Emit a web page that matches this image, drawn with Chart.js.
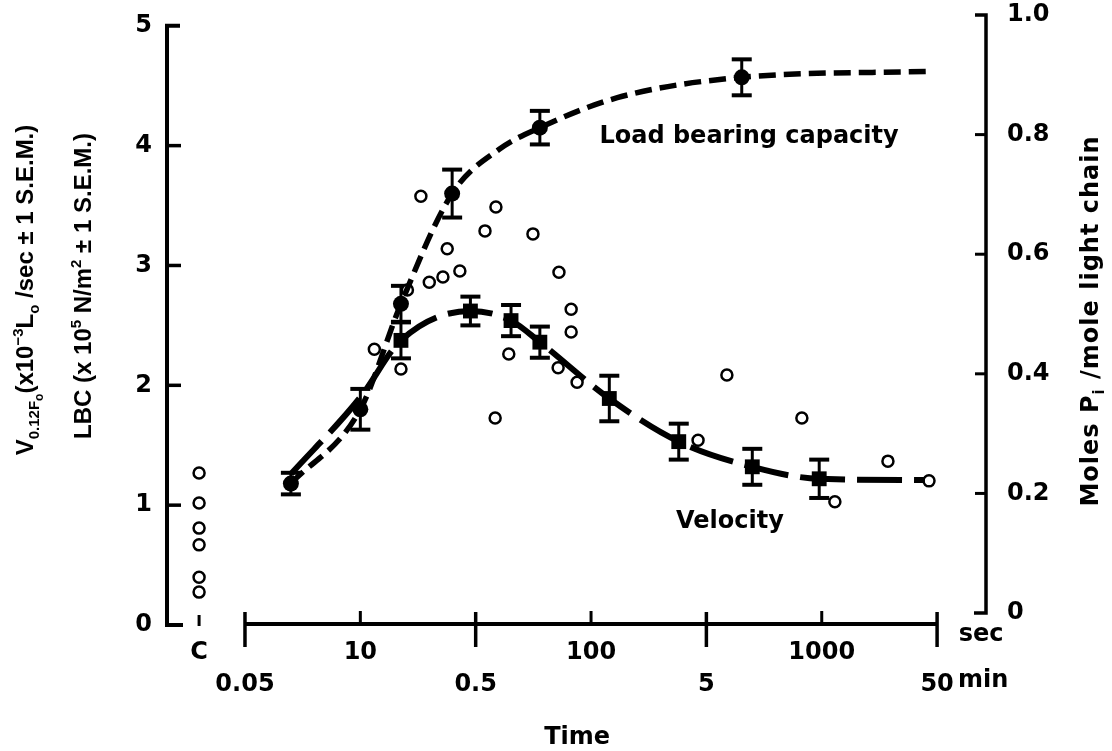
<!DOCTYPE html>
<html>
<head>
<meta charset="utf-8">
<script src="https://cdn.jsdelivr.net/npm/chart.js@4.4.0/dist/chart.umd.min.js"></script>
<style>
body { margin: 0; background: #fff; }
</style>
</head>
<body>
<canvas id="chart" width="1112" height="751"></canvas>
<script>
FONT = '"DejaVu Sans", "Liberation Sans", sans-serif'
NARROW = '"Liberation Sans", Arial, sans-serif'

// x axis (time, sec), "C" = control column
const xTickVals = [2, 3.162, 10, 31.62, 100, 316.2, 1000, 3162]
const xSecLabels = ['C', '', '10', '', '100', '', '1000', '']
const xMinLabels = ['', '0.05', '', '0.5', '', '5', '', '50']
const yTicks = [0, 1, 2, 3, 4, 5]
const y2Ticks = [0, 0.2, 0.4, 0.6, 0.8, 1.0]

// load bearing capacity, filled circles (null err = curve only, no marker)
const lbcTime = [5, 10, 15, 25, 40, 60, 130, 450, 3000]
const lbcVal = [1.18, 1.8, 2.68, 3.6, 3.97, 4.15, 4.4, 4.57, 4.62]
const lbcErr = [0.09, 0.17, 0.15, 0.2, null, 0.14, null, 0.15, null]

// velocity, filled squares
const velTime = [5, 10, 15, 30, 45, 60, 120, 240, 500, 975, 2800]
const velVal = [1.26, 1.9, 2.375, 2.62, 2.54, 2.36, 1.89, 1.53, 1.32, 1.22, 1.21]
const velErr = [null, null, 0.15, 0.12, 0.13, 0.13, 0.19, 0.15, 0.15, 0.16, null]

// moles Pi / mole light chain, open circles (right axis)
const piTime = [11.5, 15, 16, 18.3, 19.9, 22.8, 23.8, 27, 34.7, 38.4, 38.7, 44, 56, 72, 72.6, 82, 82, 87, 291, 388, 820, 1140, 1936, 2917]
const piVal = [0.441, 0.408, 0.540, 0.697, 0.553, 0.562, 0.609, 0.572, 0.639, 0.326, 0.679, 0.433, 0.634, 0.410, 0.570, 0.508, 0.470, 0.386, 0.289, 0.398, 0.326, 0.186, 0.254, 0.221]
const ctrlTime = 2
const ctrlVal = [0.234, 0.184, 0.142, 0.114, 0.060, 0.035]

function pts(xs, ys) {
    return ys.map((v, i) => ({x: Array.isArray(xs) ? xs[i] : xs, y: v}))
}

function seg(ctx, coords, w) {
    ctx.lineWidth = w
    ctx.beginPath()
    ctx.moveTo(coords[0], coords[1])
    for (let i = 2; i < coords.length; i += 2) ctx.lineTo(coords[i], coords[i + 1])
    ctx.stroke()
}

// rich text: parts of [text, kind] ; kind 0 normal, 1 sub, 2 subsub, 3 sup
function partFont(k, fam) {
    const size = [24, 15, 12, 15][k]
    return `bold ${size}px ${fam}`
}
function drawRich(ctx, parts, cx, cy, fam, spacing) {
    ctx.save()
    ctx.translate(cx, cy)
    ctx.rotate(-Math.PI / 2)
    ctx.letterSpacing = spacing + 'px'
    let w = 0
    parts.forEach(p => { ctx.font = partFont(p[1], fam); w += ctx.measureText(p[0]).width })
    let x = -w / 2
    ctx.textBaseline = 'alphabetic'
    ctx.textAlign = 'left'
    parts.forEach(p => {
        ctx.font = partFont(p[1], fam)
        const dy = [0, 6, 10, -10][p[1]]
        ctx.fillText(p[0], x, dy)
        x += ctx.measureText(p[0]).width
    })
    ctx.restore()
}

const axisArt = {
    id: 'axisArt',
    beforeDatasetsDraw(chart) {
        const {ctx, chartArea, scales: {x, y, y2}} = chart
        ctx.save()
        ctx.strokeStyle = '#000'
        ctx.lineJoin = 'miter'
        // left axis
        const lx = chartArea.left
        seg(ctx, [lx + 13, y.getPixelForValue(5), lx, y.getPixelForValue(5), lx, y.getPixelForValue(0), lx + 16, y.getPixelForValue(0)], 4)
        yTicks.slice(1, -1).forEach(v => seg(ctx, [lx, y.getPixelForValue(v), lx + 14, y.getPixelForValue(v)], 3.5))
        // right axis
        const rx = chartArea.right
        seg(ctx, [rx - 11, y2.getPixelForValue(1), rx, y2.getPixelForValue(1), rx, y2.getPixelForValue(0), rx - 12, y2.getPixelForValue(0)], 3.5)
        y2Ticks.slice(1, -1).forEach(v => seg(ctx, [rx, y2.getPixelForValue(v), rx - 11, y2.getPixelForValue(v)], 3))
        // broken time axis
        const ay = y.getPixelForValue(0) - 1
        seg(ctx, [x.getPixelForValue(3.162), ay, x.getPixelForValue(3162), ay], 4)
        xTickVals.forEach((v, i) => {
            const px = x.getPixelForValue(v)
            if (v === ctrlTime) seg(ctx, [px, ay - 9, px, ay + 2], 3)
            else if (xMinLabels[i]) seg(ctx, [px, ay - 12, px, ay + 23], 3.5)
            else seg(ctx, [px, ay - 13, px, ay], 3)
        })
        // error bars
        const bars = [[0, lbcVal, lbcErr], [1, velVal, velErr]]
        bars.forEach(([di, vals, errs]) => {
            const meta = chart.getDatasetMeta(di)
            meta.data.forEach((pt, j) => {
                if (errs[j] == null) return
                const t = y.getPixelForValue(vals[j] + errs[j])
                const b = y.getPixelForValue(vals[j] - errs[j])
                seg(ctx, [pt.x, t, pt.x, b], 3)
                seg(ctx, [pt.x - 10, t, pt.x + 10, t], 4)
                seg(ctx, [pt.x - 10, b, pt.x + 10, b], 4)
            })
        })
        ctx.restore()
    },
    afterDraw(chart) {
        const {ctx, scales: {x, y}} = chart
        ctx.save()
        ctx.fillStyle = '#000'
        ctx.font = `bold 24px ${FONT}`
        ctx.textAlign = 'center'
        ctx.textBaseline = 'middle'
        const end = x.getPixelForValue(3162)
        ctx.fillText('sec', end + 44, 635)
        ctx.fillText('min', end + 46, 681)
        ctx.fillText('Time', x.getPixelForValue(87), 738)
        ctx.fillText('Load bearing capacity', x.getPixelForValue(484), y.getPixelForValue(4.07))
        ctx.fillText('Velocity', x.getPixelForValue(400), y.getPixelForValue(0.86))
        drawRich(ctx, [['V', 0], ['0.12', 1], ['F', 1], ['o', 2], ['(x10', 0], ['\u22123', 3], ['L', 0], ['o', 1], [' /sec \u00b1 1 S.E.M.)', 0]], 33, 290, NARROW, 0)
        drawRich(ctx, [['LBC (x 10', 0], ['5', 3], [' N/m', 0], ['2', 3], [' \u00b1 1 S.E.M.)', 0]], 91, 286, NARROW, 0)
        drawRich(ctx, [['Moles P', 0], ['i', 1], [' /mole light chain', 0]], 1098, 321, FONT, 1)
        ctx.restore()
    }
}

const tickFont = {family: FONT, size: 24, weight: 'bold', lineHeight: 1.333}

new Chart(document.getElementById('chart'), {
    type: 'scatter',
    data: {
        datasets: [
            {
                data: pts(lbcTime, lbcVal),
                showLine: true,
                cubicInterpolationMode: 'monotone',
                borderColor: '#000',
                borderWidth: 5.5,
                borderDash: [17, 8],
                pointStyle: 'circle',
                pointRadius: lbcErr.map(e => e == null ? 0 : 8),
                pointBackgroundColor: '#000',
                pointBorderWidth: 0,
                yAxisID: 'y'
            },
            {
                data: pts(velTime, velVal),
                showLine: true,
                cubicInterpolationMode: 'monotone',
                borderColor: '#000',
                borderWidth: 6,
                borderDash: [45, 12],
                pointStyle: 'rect',
                pointRadius: velErr.map(e => e == null ? 0 : 10.5),
                pointBackgroundColor: '#000',
                pointBorderWidth: 0,
                yAxisID: 'y'
            },
            {
                data: pts(piTime, piVal),
                showLine: false,
                pointStyle: 'circle',
                pointRadius: 5.5,
                pointBackgroundColor: '#fff',
                pointBorderColor: '#000',
                pointBorderWidth: 2.5,
                yAxisID: 'y2'
            },
            {
                data: pts(ctrlTime, ctrlVal),
                showLine: false,
                pointStyle: 'circle',
                pointRadius: 5.5,
                pointBackgroundColor: '#fff',
                pointBorderColor: '#000',
                pointBorderWidth: 2.5,
                yAxisID: 'y2'
            }
        ]
    },
    options: {
        responsive: false,
        animation: false,
        layout: {padding: {top: 15, left: 0, right: 0, bottom: 0}},
        plugins: {
            legend: {display: false},
            tooltip: {enabled: false}
        },
        scales: {
            x: {
                type: 'logarithmic',
                position: 'bottom',
                bounds: 'data',
                min: 1.452,
                max: 5152,
                grid: {display: false, drawTicks: false},
                border: {display: false},
                afterBuildTicks: s => { s.ticks = xTickVals.map(v => ({value: v})) },
                afterFit: s => { s.height = 126; s.paddingLeft = 0; s.paddingRight = 0 },
                ticks: {
                    autoSkip: false,
                    maxRotation: 0,
                    minRotation: 0,
                    padding: 12,
                    color: '#000',
                    font: tickFont,
                    callback: (v, i) => [xSecLabels[i], xMinLabels[i]]
                }
            },
            y: {
                position: 'left',
                min: 0,
                max: 5.09,
                grid: {display: false, drawTicks: false},
                border: {display: false},
                afterBuildTicks: s => { s.ticks = yTicks.map(v => ({value: v})) },
                afterFit: s => { s.width = 167; s.paddingTop = 0; s.paddingBottom = 0 },
                ticks: {padding: 15, color: '#000', font: tickFont}
            },
            y2: {
                position: 'right',
                min: -0.02,
                max: 1.0,
                grid: {display: false, drawTicks: false},
                border: {display: false},
                afterBuildTicks: s => { s.ticks = y2Ticks.map(v => ({value: v})) },
                afterFit: s => { s.width = 126; s.paddingTop = 0; s.paddingBottom = 0 },
                ticks: {
                    padding: 21,
                    color: '#000',
                    font: tickFont,
                    callback: v => v === 0 ? '0' : v.toFixed(1)
                }
            }
        }
    },
    plugins: [axisArt]
})
</script>
</body>
</html>
